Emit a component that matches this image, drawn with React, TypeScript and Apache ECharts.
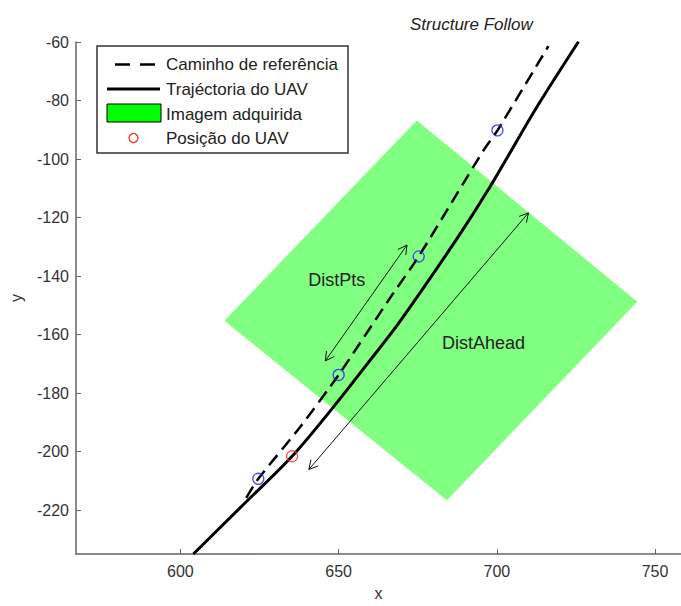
import React, { useEffect, useRef } from "react";
import * as echarts from "echarts";

const FONT = 'Arial, "Liberation Sans", sans-serif';

// Reference path (dashed)
const refX = [620.8, 624.6, 637.9, 650, 666.3, 675.3, 695.8, 700.2, 716.3];
const refY = [-215.8, -209.3, -191.5, -173.8, -147.4, -133.3, -97.0, -90.2, -61.4];
// UAV trajectory (solid)
const uavX = [604.1, 620.0, 635.3, 648.4, 659.0, 669.5, 687.4, 697.9, 712.6, 725.8];
const uavY = [-235, -218.0, -201.6, -184.7, -170.1, -155.3, -127.2, -109.4, -82.3, -59.9];
// Acquired image footprint (polygon vertices)
const imgX = [613.9, 674.7, 744.4, 684.2];
const imgY = [-155.3, -86.8, -148.8, -216.6];
// Path points (blue circles)
const ptsX = [624.6, 650, 675.3, 700.2];
const ptsY = [-209.3, -173.8, -133.3, -90.2];
// UAV position (red circle)
const posX = [635.3];
const posY = [-201.6];
// Double arrows
const arrowX1 = [645.8, 640.6];
const arrowY1 = [-169.0, -206.1];
const arrowX2 = [671.6, 710.0];
const arrowY2 = [-129.4, -118.4];
const labelText = ["DistPts", "DistAhead"];
const labelX = [649.4, 695.8];
const labelY = [-141.4, -162.9];
// Legend
const legendNames = ["Caminho de referência", "Trajéctoria do UAV", "Imagem adquirida", "Posição do UAV"];

export default function App() {
  const ref = useRef<HTMLDivElement>(null);
  useEffect(() => {
    if (!ref.current) return;
    const chart = echarts.init(ref.current, null, { renderer: "svg" });
    const rowY = [64.5, 89, 114, 138];
    const legendGraphic: any[] = [
      {
        type: "rect",
        shape: { x: 97, y: 46, width: 251, height: 107 },
        style: { fill: "#fff", stroke: "#333", lineWidth: 1.5 },
        z: 100,
      },
      {
        type: "line",
        shape: { x1: 115, y1: rowY[0], x2: 160, y2: rowY[0] },
        style: { stroke: "#000", lineWidth: 2.5, lineDash: [15, 10] },
        z: 101,
      },
      {
        type: "line",
        shape: { x1: 107, y1: rowY[1], x2: 160, y2: rowY[1] },
        style: { stroke: "#000", lineWidth: 3 },
        z: 101,
      },
      {
        type: "rect",
        shape: { x: 107, y: 104, width: 54, height: 18 },
        style: { fill: "#00ff00", stroke: "#000", lineWidth: 1 },
        z: 101,
      },
      {
        type: "circle",
        shape: { cx: 133.5, cy: rowY[3], r: 4.5 },
        style: { fill: "none", stroke: "#ff3030", lineWidth: 1.3 },
        z: 101,
      },
      ...legendNames.map((n, i) => ({
        type: "text",
        x: 166,
        y: rowY[i],
        style: {
          text: n,
          fontSize: 17,
          fontFamily: FONT,
          fill: "#222",
          align: "left",
          verticalAlign: "middle",
          textAlign: "left",
          textVerticalAlign: "middle",
        },
        z: 101,
      })),
    ];

    const option: any = {
      animation: false,
      backgroundColor: "#fff",
      title: {
        text: "Structure Follow",
        left: 405,
        top: 11,
        textStyle: { fontStyle: "italic", fontWeight: "normal", fontSize: 17, color: "#222", fontFamily: FONT },
      },
      grid: { left: 75, right: 0, top: 42, bottom: 46, containLabel: false },
      xAxis: {
        type: "value",
        min: 567,
        max: 758.2,
        splitNumber: 4,
        minInterval: 50,
        maxInterval: 50,
        name: "x",
        nameLocation: "middle",
        nameGap: 31,
        nameTextStyle: { fontSize: 16, color: "#333", fontFamily: FONT },
        axisLine: { lineStyle: { color: "#666", width: 1.5 } },
        axisTick: { inside: true, length: 5, lineStyle: { color: "#666" } },
        axisLabel: {
          fontSize: 16,
          color: "#333",
          fontFamily: FONT,
          margin: 9,
          showMinLabel: false,
          showMaxLabel: false,
          formatter: (v: number) => (Math.abs(v % 50) < 1e-6 ? String(v) : ""),
        },
        splitLine: { show: false },
      },
      yAxis: {
        type: "value",
        min: -235,
        max: -60,
        splitNumber: 9,
        minInterval: 20,
        maxInterval: 20,
        name: "y",
        nameLocation: "middle",
        nameGap: 52,
        nameTextStyle: { fontSize: 16, color: "#333", fontFamily: FONT },
        axisLine: { lineStyle: { color: "#666", width: 1.5 } },
        axisTick: { inside: true, length: 5, lineStyle: { color: "#666" } },
        axisLabel: {
          fontSize: 16,
          color: "#333",
          fontFamily: FONT,
          margin: 7,
          showMinLabel: false,
          formatter: (v: number) => (Math.abs(v % 20) < 1e-6 ? String(v) : ""),
        },
        splitLine: { show: false },
      },
      graphic: legendGraphic,
      series: [
        {
          name: "Imagem adquirida",
          type: "custom",
          coordinateSystem: "cartesian2d",
          z: 1,
          data: imgX.map((x, i) => [x, imgY[i]]),
          renderItem: (params: any, api: any) => {
            if (params.dataIndex !== 0) return null;
            const pts = imgX.map((x, i) => api.coord([x, imgY[i]]));
            return {
              type: "polygon",
              shape: { points: pts },
              style: { fill: "#80ff80", stroke: "none" },
            };
          },
          silent: true,
        },
        {
          name: "Caminho de referência",
          type: "line",
          z: 3,
          data: refX.map((x, i) => [x, refY[i]]),
          showSymbol: false,
          smooth: 0.2,
          lineStyle: { color: "#000", width: 2.5, type: [13, 7] },
        },
        {
          name: "Trajéctoria do UAV",
          type: "line",
          z: 4,
          data: uavX.map((x, i) => [x, uavY[i]]),
          showSymbol: false,
          smooth: 0.3,
          lineStyle: { color: "#000", width: 3 },
        },
        {
          name: "Arrows",
          type: "custom",
          coordinateSystem: "cartesian2d",
          z: 5,
          encode: { x: [0, 2], y: [1, 3] },
          data: arrowX1.map((x, i) => [x, arrowY1[i], arrowX2[i], arrowY2[i]]),
          renderItem: (params: any, api: any) => {
            const p1 = api.coord([api.value(0), api.value(1)]);
            const p2 = api.coord([api.value(2), api.value(3)]);
            const ang = Math.atan2(p2[1] - p1[1], p2[0] - p1[0]);
            const L = 10;
            const a = 0.5;
            const head = (p: number[], dir: number) => [
              [p[0] + L * Math.cos(dir + a), p[1] + L * Math.sin(dir + a)],
              [p[0], p[1]],
              [p[0] + L * Math.cos(dir - a), p[1] + L * Math.sin(dir - a)],
            ];
            const st = { stroke: "#111", lineWidth: 1, fill: "none" };
            return {
              type: "group",
              children: [
                { type: "line", shape: { x1: p1[0], y1: p1[1], x2: p2[0], y2: p2[1] }, style: st },
                { type: "polyline", shape: { points: head(p2, ang + Math.PI) }, style: st },
                { type: "polyline", shape: { points: head(p1, ang) }, style: st },
              ],
            };
          },
          silent: true,
        },
        {
          name: "Labels",
          type: "custom",
          coordinateSystem: "cartesian2d",
          z: 6,
          data: labelX.map((x, i) => [x, labelY[i]]),
          renderItem: (params: any, api: any) => {
            const p = api.coord([api.value(0), api.value(1)]);
            return {
              type: "text",
              x: p[0],
              y: p[1],
              style: {
                text: labelText[params.dataIndex],
                fontSize: 18,
                fontFamily: FONT,
                fill: "#222",
                align: "center",
                verticalAlign: "middle",
                textAlign: "center",
                textVerticalAlign: "middle",
              },
            };
          },
          silent: true,
        },
        {
          name: "Pontos",
          type: "scatter",
          z: 7,
          data: ptsX.map((x, i) => [x, ptsY[i]]),
          symbol: "circle",
          symbolSize: 11,
          itemStyle: { color: "none", borderColor: "#2020ff", borderWidth: 1.3 },
        },
        {
          name: "Posição do UAV",
          type: "scatter",
          z: 8,
          data: posX.map((x, i) => [x, posY[i]]),
          symbol: "circle",
          symbolSize: 11,
          itemStyle: { color: "none", borderColor: "#ff3030", borderWidth: 1.3 },
        },
      ],
    };
    chart.setOption(option);
    return () => chart.dispose();
  }, []);
  return (
    <div
      ref={ref}
      style={{ position: "absolute", left: 0, top: 0, width: 681, height: 606, background: "#fff" }}
    />
  );
}
